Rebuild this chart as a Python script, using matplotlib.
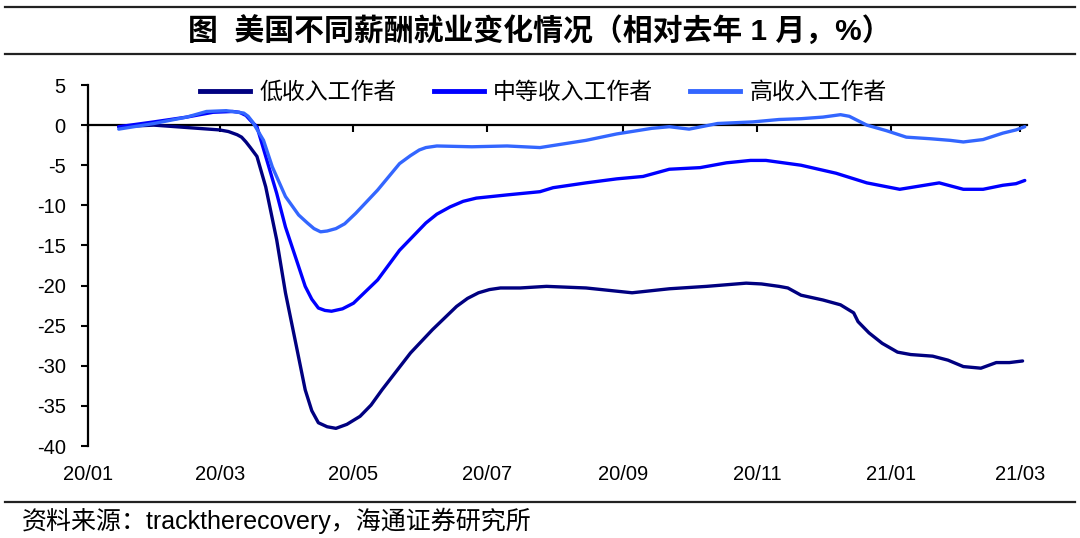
import numpy as np
import pandas as pd
import matplotlib
matplotlib.use("Agg")
import matplotlib.pyplot as plt
import matplotlib.dates as mdates
from matplotlib.lines import Line2D

plt.rcParams['font.family'] = ['Liberation Sans', 'Noto Sans CJK SC']
plt.rcParams['axes.unicode_minus'] = False

# 低收入工作者
low_dates = ["2020-01-15", "2020-01-31", "2020-02-15", "2020-03-01", "2020-03-05",
             "2020-03-09", "2020-03-11", "2020-03-13", "2020-03-15", "2020-03-18",
             "2020-03-22", "2020-03-27", "2020-03-31", "2020-04-05", "2020-04-09",
             "2020-04-12", "2020-04-15", "2020-04-19", "2020-04-23", "2020-04-28",
             "2020-05-04", "2020-05-09", "2020-05-14", "2020-05-27", "2020-06-06",
             "2020-06-17", "2020-06-22", "2020-06-27", "2020-07-02", "2020-07-07",
             "2020-07-16", "2020-07-28", "2020-08-15", "2020-09-05", "2020-09-22",
             "2020-10-09", "2020-10-27", "2020-11-03", "2020-11-11", "2020-11-15",
             "2020-11-21", "2020-12-01", "2020-12-09", "2020-12-15", "2020-12-17",
             "2020-12-22", "2020-12-28", "2021-01-04", "2021-01-10", "2021-01-20",
             "2021-01-27", "2021-02-03", "2021-02-11", "2021-02-18", "2021-02-24",
             "2021-03-02"]
low_vals = [-0.2, 0.0, -0.3, -0.6, -0.8,
            -1.2, -1.5, -2.1, -2.8, -3.9,
            -7.7, -14.3, -20.9, -27.6, -33.0,
            -35.6, -37.1, -37.6, -37.8, -37.3,
            -36.3, -34.9, -33.0, -28.4, -25.5,
            -22.6, -21.6, -20.9, -20.5, -20.3,
            -20.3, -20.1, -20.3, -20.9, -20.4,
            -20.1, -19.7, -19.8, -20.1, -20.3,
            -21.2, -21.8, -22.4, -23.4, -24.5,
            -25.9, -27.2, -28.3, -28.6, -28.8,
            -29.3, -30.1, -30.3, -29.6, -29.6,
            -29.4]

# 中等收入工作者
mid_dates = ["2020-01-15", "2020-01-31", "2020-02-15", "2020-02-27", "2020-03-07",
             "2020-03-10", "2020-03-13", "2020-03-15", "2020-03-18", "2020-03-22",
             "2020-03-27", "2020-03-31", "2020-04-05", "2020-04-09", "2020-04-12",
             "2020-04-15", "2020-04-18", "2020-04-21", "2020-04-26", "2020-05-01",
             "2020-05-12", "2020-05-22", "2020-06-03", "2020-06-08", "2020-06-14",
             "2020-06-20", "2020-06-26", "2020-07-03", "2020-07-10", "2020-07-25",
             "2020-07-31", "2020-08-15", "2020-08-29", "2020-09-10", "2020-09-22",
             "2020-10-06", "2020-10-18", "2020-10-29", "2020-11-05", "2020-11-21",
             "2020-12-07", "2020-12-21", "2021-01-05", "2021-01-14", "2021-01-23",
             "2021-02-03", "2021-02-12", "2021-02-21", "2021-02-27", "2021-03-03"]
mid_vals = [-0.2, 0.4, 1.0, 1.6, 1.7,
            1.6, 1.2, 0.6, -0.2, -3.9,
            -8.5, -12.7, -16.8, -20.1, -21.7,
            -22.8, -23.1, -23.2, -22.9, -22.2,
            -19.3, -15.6, -12.2, -11.1, -10.2,
            -9.5, -9.1, -8.9, -8.7, -8.3,
            -7.8, -7.2, -6.7, -6.4, -5.5,
            -5.3, -4.7, -4.4, -4.4, -5.0,
            -6.0, -7.2, -8.0, -7.6, -7.2,
            -8.0, -8.0, -7.5, -7.3, -6.9]

# 高收入工作者
high_dates = ["2020-01-15", "2020-01-31", "2020-02-15", "2020-02-24", "2020-03-04",
              "2020-03-12", "2020-03-14", "2020-03-16", "2020-03-21", "2020-03-25",
              "2020-03-31", "2020-04-06", "2020-04-10", "2020-04-13", "2020-04-16",
              "2020-04-19", "2020-04-23", "2020-04-27", "2020-05-02", "2020-05-12",
              "2020-05-22", "2020-05-27", "2020-05-31", "2020-06-03", "2020-06-08",
              "2020-06-24", "2020-07-10", "2020-07-25", "2020-08-15", "2020-08-29",
              "2020-09-14", "2020-09-22", "2020-10-01", "2020-10-14", "2020-10-30",
              "2020-11-11", "2020-11-21", "2020-12-01", "2020-12-09", "2020-12-13",
              "2020-12-21", "2020-12-30", "2021-01-08", "2021-01-19", "2021-01-28",
              "2021-02-03", "2021-02-12", "2021-02-21", "2021-02-27", "2021-03-03"]
high_vals = [-0.5, 0.2, 1.0, 1.7, 1.8,
             1.5, 1.1, 0.4, -1.9, -5.2,
             -8.9, -11.2, -12.2, -12.9, -13.3,
             -13.2, -12.9, -12.3, -11.0, -8.1,
             -4.8, -3.8, -3.1, -2.8, -2.6,
             -2.7, -2.6, -2.8, -1.9, -1.1,
             -0.4, -0.2, -0.5, 0.2, 0.4,
             0.7, 0.8, 1.0, 1.3, 1.1,
             0.0, -0.7, -1.5, -1.7, -1.9,
             -2.1, -1.8, -1.0, -0.6, -0.2]

series_names = ["低收入工作者", "中等收入工作者", "高收入工作者"]
colors = ["#000080", "#0000FF", "#3366FF"]

tick_dates = ["2020-01-01", "2020-03-01", "2020-05-01", "2020-07-01",
              "2020-09-01", "2020-11-01", "2021-01-01", "2021-03-01"]
tick_labels = ["20/01", "20/03", "20/05", "20/07", "20/09", "20/11", "21/01", "21/03"]
y_ticks = [5, 0, -5, -10, -15, -20, -25, -30, -35, -40]

fig = plt.figure(figsize=(10.8, 5.38), dpi=100)
fig.set_facecolor('white')
ax = fig.add_axes([0.0815, 0.171, 0.8694, 0.671])

all_dates = [low_dates, mid_dates, high_dates]
all_vals = [low_vals, mid_vals, high_vals]
for d, v, c, n in zip(all_dates, all_vals, colors, series_names):
    ax.plot(pd.to_datetime(d), v, color=c, lw=2.4, label=n,
            solid_capstyle='round', solid_joinstyle='round')

ax.set_ylim(-40, 5)
ax.set_xlim(pd.Timestamp("2020-01-01"), pd.Timestamp("2021-03-04"))
ax.set_yticks(y_ticks)
ax.tick_params(axis='y', direction='out', length=5, width=1.5, pad=11, labelsize=14.5)

for s in ['top', 'right']:
    ax.spines[s].set_visible(False)
ax.spines['left'].set_linewidth(1.6)
ax.spines['bottom'].set_position(('data', 0))
ax.spines['bottom'].set_linewidth(1.6)
ax.spines['bottom'].set_zorder(1)

ticks = mdates.date2num(pd.to_datetime(tick_dates))
ax.set_xticks(ticks)
ax.tick_params(axis='x', direction='out', length=5, width=1.5, labelbottom=False)

sec = ax.secondary_xaxis('bottom')
sec.set_xticks(ticks, tick_labels)
sec.spines['bottom'].set_visible(False)
sec.tick_params(axis='x', length=0, pad=14, labelsize=14.5)

handles = [Line2D([0], [0], color=c, lw=3.5) for c in colors]
ax.legend(handles, series_names, loc='center', bbox_to_anchor=(0.485, 0.98),
          ncol=3, frameon=False, fontsize=16.5, handlelength=2.2,
          handletextpad=0.4, columnspacing=1.6)

# title and frame lines
fig.text(0.5, 0.94, "图  美国不同薪酬就业变化情况（相对去年 1 月，%）",
         ha='center', va='center', fontsize=21.5, fontweight='bold')
for yy in [0.987, 0.9, 0.067]:
    fig.add_artist(Line2D([0.005, 0.995], [yy, yy], color='#222222', lw=1.6,
                          transform=fig.transFigure))
fig.text(0.02, 0.032, "资料来源：tracktherecovery，海通证券研究所",
         ha='left', va='center', fontsize=18)

fig.savefig("out.png", dpi=100, facecolor='white')
